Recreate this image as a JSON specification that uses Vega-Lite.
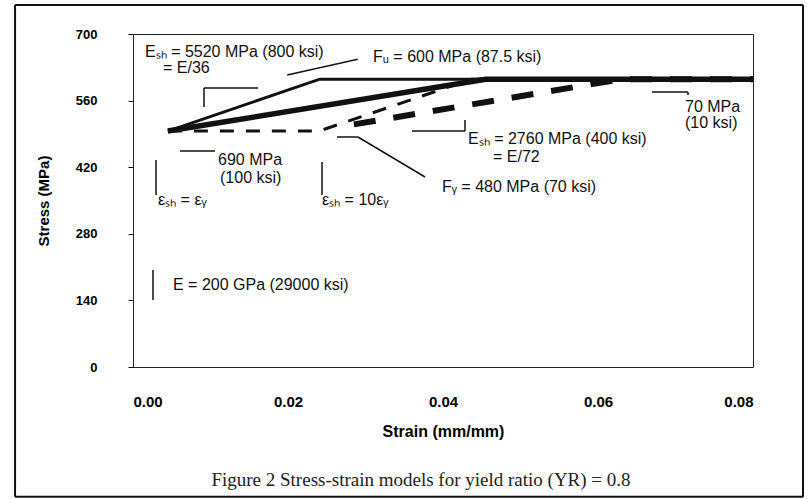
{
  "$schema": "https://vega.github.io/schema/vega-lite/v6.json",
  "width": 620,
  "height": 333,
  "autosize": "none",
  "padding": {"left": 133, "top": 34, "right": 57, "bottom": 132},
  "background": "white",
  "config": {
    "font": "Liberation Sans",
    "view": {"stroke": "#222", "strokeWidth": 1},
    "axis": {"grid": false, "labelFont": "Liberation Sans", "labelFontWeight": "bold", "labelColor": "#000", "titleFont": "Liberation Sans", "titleFontWeight": "bold", "titleColor": "#000", "domainColor": "#000", "tickColor": "#000"}
  },
  "title": {"text": "Figure 2   Stress-strain models for yield ratio (YR) = 0.8", "orient": "bottom", "anchor": "middle", "baseline": "middle", "font": "Liberation Serif", "fontSize": 19, "fontWeight": "normal", "color": "#222", "offset": -18, "dx": -22},
  "datasets": {
    "frame": [
      {"x1": -0.01522, "y1": 761, "x2": 0.08645, "y2": 761},
      {"x1": -0.01522, "y1": -273, "x2": 0.08645, "y2": -273},
      {"x1": -0.01522, "y1": 761, "x2": -0.01522, "y2": -273},
      {"x1": 0.08645, "y1": 761, "x2": 0.08645, "y2": -273}
    ],
    "curves": [
      {"model": "Esh=E/36, esh=ey", "strain": 0.0045, "stress": 496},
      {"model": "Esh=E/36, esh=ey", "strain": 0.0241, "stress": 605},
      {"model": "Esh=E/36, esh=ey", "strain": 0.08, "stress": 605},
      {"model": "Esh=E/72, esh=ey", "strain": 0.0045, "stress": 496},
      {"model": "Esh=E/72, esh=ey", "strain": 0.0455, "stress": 605},
      {"model": "Esh=E/72, esh=ey", "strain": 0.08, "stress": 605},
      {"model": "Esh=E/36, esh=10ey", "strain": 0.0045, "stress": 496},
      {"model": "Esh=E/36, esh=10ey", "strain": 0.024, "stress": 496},
      {"model": "Esh=E/36, esh=10ey", "strain": 0.0437, "stress": 605},
      {"model": "Esh=E/36, esh=10ey", "strain": 0.08, "stress": 605},
      {"model": "Esh=E/72, esh=10ey", "strain": 0.0285, "stress": 510},
      {"model": "Esh=E/72, esh=10ey", "strain": 0.063, "stress": 605},
      {"model": "Esh=E/72, esh=10ey", "strain": 0.08, "stress": 605}
    ],
    "leaders": [
      {"x1": 0.0199, "y1": 614, "x2": 0.029, "y2": 647},
      {"x1": 0.00916, "y1": 586.5, "x2": 0.00916, "y2": 546.6},
      {"x1": 0.00916, "y1": 586.5, "x2": 0.01613, "y2": 586.5},
      {"x1": 0.036, "y1": 496, "x2": 0.04284, "y2": 496},
      {"x1": 0.04284, "y1": 496, "x2": 0.04284, "y2": 519},
      {"x1": 0.06697, "y1": 578, "x2": 0.07161, "y2": 578},
      {"x1": 0.07161, "y1": 578, "x2": 0.07161, "y2": 572},
      {"x1": 0.02632, "y1": 483.5, "x2": 0.02903, "y2": 483.5},
      {"x1": 0.02903, "y1": 483.5, "x2": 0.03768, "y2": 399.4},
      {"x1": 0.00606, "y1": 454, "x2": 0.01058, "y2": 454},
      {"x1": 0.00297, "y1": 435, "x2": 0.00297, "y2": 361.6},
      {"x1": 0.02439, "y1": 431, "x2": 0.02439, "y2": 361.6},
      {"x1": 0.00258, "y1": 204, "x2": 0.00258, "y2": 141}
    ],
    "notes": [
      {"strain": 0.00155, "stress": 662.2, "label": "Eₛₕ = 5520 MPa (800 ksi)"},
      {"strain": 0.00387, "stress": 628.6, "label": "= E/36"},
      {"strain": 0.03097, "stress": 651.7, "label": "Fᵤ = 600 MPa (87.5 ksi)"},
      {"strain": 0.07123, "stress": 546.6, "label": "70 MPa"},
      {"strain": 0.07123, "stress": 512.9, "label": "(10 ksi)"},
      {"strain": 0.04323, "stress": 479.3, "label": "Eₛₕ = 2760 MPa (400 ksi)"},
      {"strain": 0.04645, "stress": 441.5, "label": "= E/72"},
      {"strain": 0.03987, "stress": 378.4, "label": "Fᵧ = 480 MPa (70 ksi)"},
      {"strain": 0.01097, "stress": 435.2, "label": "690 MPa"},
      {"strain": 0.01123, "stress": 397.3, "label": "(100 ksi)"},
      {"strain": 0.00323, "stress": 351.1, "label": "εₛₕ = εᵧ"},
      {"strain": 0.02439, "stress": 351.1, "label": "εₛₕ = 10εᵧ"},
      {"strain": 0.00516, "stress": 172.4, "label": "E = 200 GPa (29000 ksi)"}
    ]
  },
  "encoding": {
    "x": {"field": "strain", "type": "quantitative", "scale": {"domain": [0, 0.08], "nice": false}, "axis": {"title": "Strain (mm/mm)", "values": [0, 0.02, 0.04, 0.06, 0.08], "format": ".2f", "ticks": false, "domain": false, "labelFontSize": 15, "labelPadding": 27, "titleFontSize": 16, "titlePadding": 14}},
    "y": {"field": "stress", "type": "quantitative", "scale": {"domain": [0, 700], "nice": false}, "axis": {"title": "Stress (MPa)", "values": [0, 140, 280, 420, 560, 700], "tickSize": 5, "labelFontSize": 13, "labelPadding": 31, "titleFontSize": 15, "titlePadding": 24, "domain": false}}
  },
  "layer": [
    {
      "data": {"name": "frame"},
      "mark": {"type": "rule", "color": "#111", "strokeWidth": 2, "clip": false},
      "encoding": {
        "x": {"field": "x1", "type": "quantitative"},
        "x2": {"field": "x2"},
        "y": {"field": "y1", "type": "quantitative"},
        "y2": {"field": "y2"}
      }
    },
    {
      "data": {"name": "leaders"},
      "mark": {"type": "rule", "color": "#111", "strokeWidth": 1.5},
      "encoding": {
        "x": {"field": "x1", "type": "quantitative"},
        "x2": {"field": "x2"},
        "y": {"field": "y1", "type": "quantitative"},
        "y2": {"field": "y2"}
      }
    },
    {
      "data": {"name": "curves"},
      "transform": [{"filter": "datum.model === 'Esh=E/36, esh=10ey'"}],
      "mark": {"type": "line", "color": "#111", "strokeWidth": 3, "strokeDash": [14, 12]},
      "encoding": {}
    },
    {
      "data": {"name": "curves"},
      "transform": [{"filter": "datum.model === 'Esh=E/72, esh=10ey'"}],
      "mark": {"type": "line", "color": "#111", "strokeWidth": 6, "strokeDash": [22, 18]},
      "encoding": {}
    },
    {
      "data": {"name": "curves"},
      "transform": [{"filter": "datum.model === 'Esh=E/36, esh=ey'"}],
      "mark": {"type": "line", "color": "#111", "strokeWidth": 3},
      "encoding": {}
    },
    {
      "data": {"name": "curves"},
      "transform": [{"filter": "datum.model === 'Esh=E/72, esh=ey'"}],
      "mark": {"type": "line", "color": "#111", "strokeWidth": 5.5},
      "encoding": {}
    },
    {
      "data": {"name": "notes"},
      "mark": {"type": "text", "align": "left", "baseline": "middle", "fontSize": 16, "color": "#111", "font": "Liberation Sans"},
      "encoding": {"text": {"field": "label"}}
    }
  ]
}
